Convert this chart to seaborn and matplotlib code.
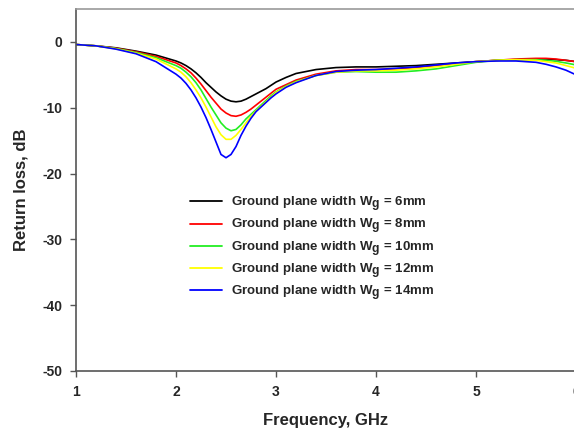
import numpy as np
import pandas as pd
import matplotlib
matplotlib.use("Agg")
import matplotlib.pyplot as plt
import matplotlib._mathtext as mathtext_impl
import seaborn as sns

# Frequency samples (GHz)
freq = [1.0, 1.2, 1.4, 1.6, 1.8,
        2.0, 2.05, 2.1, 2.15, 2.2, 2.25, 2.3, 2.35, 2.4, 2.45, 2.5, 2.55, 2.6,
        2.65, 2.7, 2.75, 2.8, 2.85, 2.9, 2.95, 3.0,
        3.1, 3.2, 3.4, 3.6, 3.8, 4.0, 4.2, 4.4, 4.6, 4.8, 5.0, 5.2, 5.4, 5.6,
        5.7, 5.8, 5.9, 6.0]

# Return loss (dB) for each ground plane width
rl_6mm = [-0.4, -0.6, -0.9, -1.4, -2.0,
          -2.9, -3.2, -3.6, -4.1, -4.7, -5.4, -6.2, -6.9, -7.6, -8.2, -8.7, -9.0, -9.1,
          -9.0, -8.7, -8.3, -7.9, -7.5, -7.1, -6.6, -6.1,
          -5.4, -4.8, -4.2, -3.9, -3.8, -3.8, -3.7, -3.6, -3.4, -3.2, -3.0, -2.8, -2.7, -2.6,
          -2.6, -2.7, -2.8, -3.0]
rl_8mm = [-0.4, -0.6, -0.95, -1.5, -2.2,
          -3.2, -3.6, -4.1, -4.7, -5.5, -6.4, -7.4, -8.4, -9.3, -10.2, -10.8, -11.2, -11.3,
          -11.1, -10.7, -10.2, -9.6, -9.0, -8.4, -7.8, -7.2,
          -6.5, -5.8, -4.9, -4.4, -4.2, -4.2, -4.1, -3.9, -3.6, -3.3, -3.0, -2.8, -2.6, -2.5,
          -2.5, -2.6, -2.8, -3.0]
rl_10mm = [-0.4, -0.6, -1.0, -1.6, -2.4,
           -3.6, -4.0, -4.6, -5.3, -6.2, -7.3, -8.6, -9.9, -11.1, -12.3, -13.1, -13.5, -13.3,
           -12.6, -11.7, -11.0, -10.3, -9.6, -8.9, -8.2, -7.6,
           -6.7, -6.0, -5.1, -4.6, -4.5, -4.6, -4.6, -4.4, -4.1, -3.6, -3.1, -2.8, -2.7, -2.7,
           -2.8, -2.95, -3.2, -3.5]
rl_12mm = [-0.4, -0.6, -1.05, -1.7, -2.6,
           -4.1, -4.6, -5.3, -6.2, -7.3, -8.5, -9.9, -11.4, -12.9, -14.1, -14.8, -14.8, -14.2,
           -13.3, -12.3, -11.3, -10.5, -9.8, -9.1, -8.4, -7.7,
           -6.8, -6.1, -5.1, -4.6, -4.4, -4.4, -4.3, -4.1, -3.8, -3.4, -3.0, -2.8, -2.7, -2.8,
           -3.0, -3.2, -3.6, -4.0]
rl_14mm = [-0.4, -0.6, -1.1, -1.8, -3.0,
           -4.9, -5.5, -6.3, -7.3, -8.5, -9.9, -11.5, -13.3, -15.2, -17.1, -17.6, -17.1, -15.9,
           -14.2, -12.8, -11.6, -10.6, -9.9, -9.2, -8.5, -7.9,
           -6.9, -6.2, -5.1, -4.5, -4.3, -4.2, -4.0, -3.8, -3.5, -3.2, -3.0, -2.9, -2.9, -3.1,
           -3.4, -3.8, -4.3, -5.0]

widths = ["6mm", "8mm", "10mm", "12mm", "14mm"]
series = [rl_6mm, rl_8mm, rl_10mm, rl_12mm, rl_14mm]
colors = ["#000000", "#ff0000", "#22ee22", "#ffff00", "#0000ff"]

x_ticks = [1, 2, 3, 4, 5, 6]
y_ticks = [0, -10, -20, -30, -40, -50]

labels = [r"Ground plane width W$_{\mathbf{g}}$ = " + w for w in widths]
df = pd.concat(
    [pd.DataFrame({"freq": freq, "rl": s, "curve": lab}) for s, lab in zip(series, labels)],
    ignore_index=True,
)

sns.set_style("white")
plt.rcParams["font.family"] = ["Liberation Sans", "DejaVu Sans"]
plt.rcParams["font.weight"] = "bold"
plt.rcParams["mathtext.fontset"] = "custom"
plt.rcParams["mathtext.rm"] = "Liberation Sans:bold"
plt.rcParams["mathtext.bf"] = "Liberation Sans:bold"
plt.rcParams["mathtext.it"] = "Liberation Sans:bold"
# larger subscripts for the W_g labels
mathtext_impl.SHRINK_FACTOR = 0.92

fig = plt.figure(figsize=(5.74, 4.32), dpi=100)
ax = fig.add_axes([76 / 574, 1 - 371 / 432, 500 / 574, 362 / 432])

sns.lineplot(data=df, x="freq", y="rl", hue="curve", palette=colors,
             linewidth=1.2, ax=ax, legend=True)
for line in ax.get_lines():
    line.set_solid_joinstyle("round")

ax.set_xlim(1, 6)
ax.set_ylim(-50, 5)
ax.set_xticks(x_ticks)
ax.set_yticks(y_ticks)
ax.set_xticklabels([str(t) for t in x_ticks], fontsize=10, fontweight="bold")
ax.set_yticklabels([str(t) for t in y_ticks], fontsize=10, fontweight="bold")
ax.tick_params(axis="both", which="both", direction="out", length=4, width=1,
               color="#555555", left=True, bottom=True, pad=6)

for side in ["left", "bottom"]:
    ax.spines[side].set_color("#555555")
    ax.spines[side].set_linewidth(1.2)
ax.spines["top"].set_color("#999999")
ax.spines["top"].set_linewidth(1.2)
ax.spines["right"].set_visible(False)

ax.set_xlabel("Frequency, GHz", fontsize=12, fontweight="bold", labelpad=10)
ax.set_ylabel("Return loss, dB", fontsize=12, fontweight="bold", labelpad=10)

leg = ax.legend(loc="upper left", bbox_to_anchor=(0.205, 0.52), frameon=False,
                fontsize=9.5, handlelength=2.4, handletextpad=0.7,
                labelspacing=0.3)
for t in leg.get_texts():
    t.set_fontweight("bold")
for h in leg.get_lines():
    h.set_linewidth(1.3)

fig.savefig("out.png", dpi=100)
